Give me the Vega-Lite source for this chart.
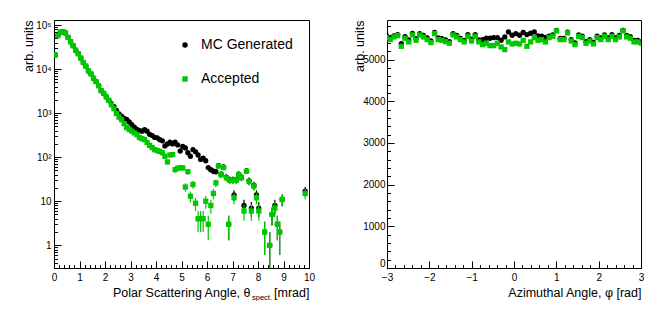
{
  "$schema": "https://vega.github.io/schema/vega-lite/v6.json",
  "autosize": {"type": "pad"},
  "padding": {"left": 21, "top": 19, "right": 0, "bottom": 0},
  "background": "white",
  "spacing": 78,
  "bounds": "flush",
  "config": {
    "font": "Liberation Sans",
    "view": {"stroke": "black", "strokeWidth": 1},
    "axis": {"domain": false, "grid": false, "tickColor": "black", "tickWidth": 1, "labelColor": "black", "titleColor": "black", "labelFont": "Liberation Sans", "titleFont": "Liberation Sans", "labelFontSize": 10, "titleFontSize": 12.5, "titleFontWeight": "normal", "labelFlush": false, "labelOverlap": false}
  },
  "datasets": {
    "accPolar": [
      {"x":0.05,"n":21000,"e":145},{"x":0.15,"n":57500,"e":240},{"x":0.25,"n":69000,"e":263},{"x":0.35,"n":70800,"e":266},{"x":0.45,"n":66000,"e":257},{"x":0.55,"n":52500,"e":229},{"x":0.65,"n":41700,"e":204},{"x":0.75,"n":33900,"e":184},{"x":0.85,"n":26900,"e":164},{"x":0.95,"n":22400,"e":150},
      {"x":1.05,"n":17800,"e":133},{"x":1.15,"n":14100,"e":119},{"x":1.25,"n":11700,"e":108},{"x":1.35,"n":9100,"e":95},{"x":1.45,"n":7800,"e":88},{"x":1.55,"n":6200,"e":79},{"x":1.65,"n":5200,"e":72},{"x":1.75,"n":4200,"e":65},{"x":1.85,"n":3240,"e":57},{"x":1.95,"n":2820,"e":53},
      {"x":2.05,"n":2340,"e":48},{"x":2.15,"n":1950,"e":44},{"x":2.25,"n":1550,"e":39},{"x":2.35,"n":1260,"e":35},{"x":2.45,"n":980,"e":31},{"x":2.55,"n":810,"e":28},{"x":2.65,"n":710,"e":27},{"x":2.75,"n":575,"e":24},{"x":2.85,"n":470,"e":22},{"x":2.95,"n":425,"e":21},
      {"x":3.05,"n":390,"e":20},{"x":3.15,"n":355,"e":19},{"x":3.25,"n":325,"e":18},{"x":3.35,"n":280,"e":17},{"x":3.45,"n":263,"e":16},{"x":3.55,"n":250,"e":16},{"x":3.65,"n":215,"e":15},{"x":3.75,"n":185,"e":14},{"x":3.85,"n":165,"e":13},{"x":3.95,"n":148,"e":12},
      {"x":4.05,"n":141,"e":12},{"x":4.15,"n":135,"e":12},{"x":4.25,"n":126,"e":11},{"x":4.35,"n":105,"e":10.2},{"x":4.45,"n":78,"e":8.8},{"x":4.55,"n":112,"e":10.6},{"x":4.65,"n":115,"e":10.7},{"x":4.75,"n":52,"e":7.2},{"x":4.85,"n":56,"e":7.5},{"x":4.95,"n":58,"e":7.6},
      {"x":5.05,"n":57,"e":7.5},{"x":5.15,"n":21,"e":4.6},{"x":5.25,"n":47,"e":6.9},{"x":5.35,"n":13,"e":3.6},{"x":5.45,"n":24,"e":4.9},{"x":5.55,"n":9,"e":3},{"x":5.65,"n":4,"e":2},{"x":5.75,"n":4,"e":2},{"x":5.85,"n":4,"e":2},{"x":5.95,"n":10,"e":3.2},
      {"x":6.05,"n":3,"e":1.7},{"x":6.15,"n":8,"e":2.8},{"x":6.25,"n":15,"e":3.9},{"x":6.35,"n":26,"e":5.1},{"x":6.45,"n":63,"e":7.9},{"x":6.55,"n":40,"e":6.3},{"x":6.65,"n":58,"e":7.6},{"x":6.76,"n":34,"e":5.8},{"x":6.85,"n":3,"e":1.7},{"x":6.89,"n":30,"e":5.5},
      {"x":7.02,"n":30,"e":5.5},{"x":7.06,"n":12,"e":3.5},{"x":7.15,"n":30,"e":5.5},{"x":7.24,"n":40,"e":6.3},{"x":7.35,"n":34,"e":5.8},{"x":7.45,"n":6,"e":2.4},{"x":7.55,"n":48,"e":6.9},{"x":7.65,"n":28,"e":5.3},{"x":7.74,"n":6,"e":2.4},{"x":7.84,"n":22,"e":4.7},
      {"x":7.94,"n":12,"e":3.5},{"x":8.03,"n":6,"e":2.4},{"x":8.26,"n":2,"e":1.4},{"x":8.46,"n":1,"e":0.99},{"x":8.55,"n":5,"e":2.2},{"x":8.66,"n":7,"e":2.6},{"x":8.76,"n":3,"e":1.7},{"x":8.85,"n":2,"e":1.4},{"x":8.95,"n":11,"e":3.3},{"x":9.85,"n":15,"e":3.9}
    ],
    "mcPolar": [
      {"x":0.05,"n":21000,"e":145},{"x":0.15,"n":57500,"e":240},{"x":0.25,"n":69000,"e":263},{"x":0.35,"n":70800,"e":266},{"x":0.45,"n":66000,"e":257},{"x":0.55,"n":52500,"e":229},{"x":0.65,"n":41700,"e":204},{"x":0.75,"n":33900,"e":184},{"x":0.85,"n":26900,"e":164},{"x":0.95,"n":22400,"e":150},
      {"x":1.05,"n":17800,"e":133},{"x":1.15,"n":14100,"e":119},{"x":1.25,"n":11700,"e":108},{"x":1.35,"n":9100,"e":95},{"x":1.45,"n":7800,"e":88},{"x":1.55,"n":6200,"e":79},{"x":1.65,"n":5200,"e":72},{"x":1.75,"n":4200,"e":65},{"x":1.85,"n":3240,"e":57},{"x":1.95,"n":2820,"e":53},
      {"x":2.05,"n":2340,"e":48},{"x":2.15,"n":1950,"e":44},{"x":2.25,"n":1650,"e":41},{"x":2.35,"n":1410,"e":38},{"x":2.45,"n":1150,"e":34},{"x":2.55,"n":955,"e":31},{"x":2.65,"n":850,"e":29},{"x":2.75,"n":760,"e":28},{"x":2.85,"n":725,"e":27},{"x":2.95,"n":630,"e":25},
      {"x":3.05,"n":550,"e":23},{"x":3.15,"n":480,"e":22},{"x":3.25,"n":425,"e":21},{"x":3.35,"n":400,"e":20},{"x":3.45,"n":390,"e":20},{"x":3.55,"n":420,"e":20},{"x":3.65,"n":390,"e":20},{"x":3.75,"n":330,"e":18},{"x":3.85,"n":310,"e":18},{"x":3.95,"n":280,"e":17},
      {"x":4.05,"n":275,"e":17},{"x":4.15,"n":250,"e":16},{"x":4.25,"n":235,"e":15},{"x":4.35,"n":180,"e":13},{"x":4.45,"n":200,"e":14},{"x":4.55,"n":220,"e":15},{"x":4.65,"n":200,"e":14},{"x":4.75,"n":220,"e":15},{"x":4.85,"n":190,"e":14},{"x":4.95,"n":138,"e":12},
      {"x":5.05,"n":175,"e":13},{"x":5.15,"n":162,"e":13},{"x":5.25,"n":126,"e":11},{"x":5.35,"n":105,"e":10},{"x":5.45,"n":148,"e":12},{"x":5.55,"n":132,"e":11},{"x":5.65,"n":112,"e":11},{"x":5.75,"n":89,"e":9.4},{"x":5.85,"n":95,"e":9.7},{"x":5.95,"n":83,"e":9.1},
      {"x":6.05,"n":58,"e":7.6},{"x":6.15,"n":52,"e":7.2},{"x":6.25,"n":48,"e":6.9},{"x":6.35,"n":47,"e":6.9},{"x":6.45,"n":64,"e":8},{"x":6.55,"n":41,"e":6.4},{"x":6.65,"n":60,"e":7.7},{"x":6.76,"n":35,"e":5.9},{"x":6.85,"n":3,"e":1.7},{"x":6.89,"n":31,"e":5.6},
      {"x":7.02,"n":31,"e":5.6},{"x":7.06,"n":14,"e":3.7},{"x":7.15,"n":31,"e":5.6},{"x":7.24,"n":41,"e":6.4},{"x":7.35,"n":35,"e":5.9},{"x":7.45,"n":8,"e":2.8},{"x":7.55,"n":49,"e":7},{"x":7.65,"n":29,"e":5.4},{"x":7.74,"n":7,"e":2.6},{"x":7.84,"n":23,"e":4.8},
      {"x":7.94,"n":14,"e":3.7},{"x":8.03,"n":7,"e":2.6},{"x":8.26,"n":2,"e":1.4},{"x":8.46,"n":1,"e":0.99},{"x":8.55,"n":5,"e":2.2},{"x":8.66,"n":8,"e":2.8},{"x":8.76,"n":3,"e":1.7},{"x":8.85,"n":2,"e":1.4},{"x":8.95,"n":11,"e":3.3},{"x":9.85,"n":17,"e":4.1}
    ],
    "accPhi": [
      {"x":-3.0107,"n":5528},{"x":-2.9234,"n":5480},{"x":-2.8362,"n":5544},{"x":-2.7489,"n":5576},{"x":-2.6616,"n":5320},{"x":-2.5744,"n":5512},{"x":-2.4871,"n":5424},{"x":-2.3998,"n":5592},{"x":-2.3126,"n":5464},{"x":-2.2253,"n":5592},
      {"x":-2.138,"n":5544},{"x":-2.0508,"n":5480},{"x":-1.9635,"n":5408},{"x":-1.8762,"n":5624},{"x":-1.789,"n":5480},{"x":-1.7017,"n":5464},{"x":-1.6144,"n":5432},{"x":-1.5272,"n":5392},{"x":-1.4399,"n":5592},{"x":-1.3526,"n":5544},
      {"x":-1.2654,"n":5480},{"x":-1.1781,"n":5424},{"x":-1.0908,"n":5560},{"x":-1.0036,"n":5448},{"x":-0.9163,"n":5560},{"x":-0.829,"n":5424},{"x":-0.7418,"n":5360},{"x":-0.6545,"n":5392},{"x":-0.5672,"n":5336},{"x":-0.48,"n":5336},
      {"x":-0.3927,"n":5392},{"x":-0.3054,"n":5304},{"x":-0.2182,"n":5240},{"x":-0.1309,"n":5424},{"x":-0.0436,"n":5376},{"x":0.0436,"n":5392},{"x":0.1309,"n":5376},{"x":0.2182,"n":5464},{"x":0.3054,"n":5320},{"x":0.3927,"n":5424},
      {"x":0.48,"n":5528},{"x":0.5672,"n":5464},{"x":0.6545,"n":5480},{"x":0.7418,"n":5424},{"x":0.829,"n":5528},{"x":0.9163,"n":5560},{"x":1.0036,"n":5688},{"x":1.0908,"n":5480},{"x":1.1781,"n":5480},{"x":1.2654,"n":5640},
      {"x":1.3526,"n":5448},{"x":1.4399,"n":5360},{"x":1.5272,"n":5560},{"x":1.6144,"n":5528},{"x":1.7017,"n":5392},{"x":1.789,"n":5448},{"x":1.8762,"n":5376},{"x":1.9635,"n":5528},{"x":2.0508,"n":5480},{"x":2.138,"n":5560},
      {"x":2.2253,"n":5480},{"x":2.3126,"n":5560},{"x":2.3998,"n":5480},{"x":2.4871,"n":5544},{"x":2.5744,"n":5688},{"x":2.6616,"n":5544},{"x":2.7489,"n":5512},{"x":2.8362,"n":5424},{"x":2.9234,"n":5424},{"x":3.0107,"n":5392}
    ],
    "mcPhi": [
      {"x":-3.0107,"n":5580},{"x":-2.9234,"n":5520},{"x":-2.8362,"n":5570},{"x":-2.7489,"n":5600},{"x":-2.6616,"n":5380},{"x":-2.5744,"n":5550},{"x":-2.4871,"n":5470},{"x":-2.3998,"n":5630},{"x":-2.3126,"n":5500},{"x":-2.2253,"n":5620},
      {"x":-2.138,"n":5580},{"x":-2.0508,"n":5520},{"x":-1.9635,"n":5450},{"x":-1.8762,"n":5650},{"x":-1.789,"n":5520},{"x":-1.7017,"n":5500},{"x":-1.6144,"n":5470},{"x":-1.5272,"n":5430},{"x":-1.4399,"n":5620},{"x":-1.3526,"n":5580},
      {"x":-1.2654,"n":5510},{"x":-1.1781,"n":5460},{"x":-1.0908,"n":5600},{"x":-1.0036,"n":5490},{"x":-0.9163,"n":5600},{"x":-0.829,"n":5470},{"x":-0.7418,"n":5480},{"x":-0.6545,"n":5512},{"x":-0.5672,"n":5512},{"x":-0.48,"n":5528},
      {"x":-0.3927,"n":5528},{"x":-0.3054,"n":5464},{"x":-0.2182,"n":5544},{"x":-0.1309,"n":5664},{"x":-0.0436,"n":5584},{"x":0.0436,"n":5624},{"x":0.1309,"n":5584},{"x":0.2182,"n":5650},{"x":0.3054,"n":5600},{"x":0.3927,"n":5632},
      {"x":0.48,"n":5664},{"x":0.5672,"n":5570},{"x":0.6545,"n":5560},{"x":0.7418,"n":5530},{"x":0.829,"n":5560},{"x":0.9163,"n":5590},{"x":1.0036,"n":5700},{"x":1.0908,"n":5510},{"x":1.1781,"n":5510},{"x":1.2654,"n":5660},
      {"x":1.3526,"n":5480},{"x":1.4399,"n":5400},{"x":1.5272,"n":5590},{"x":1.6144,"n":5560},{"x":1.7017,"n":5430},{"x":1.789,"n":5480},{"x":1.8762,"n":5410},{"x":1.9635,"n":5560},{"x":2.0508,"n":5520},{"x":2.138,"n":5590},
      {"x":2.2253,"n":5520},{"x":2.3126,"n":5600},{"x":2.3998,"n":5520},{"x":2.4871,"n":5580},{"x":2.5744,"n":5700},{"x":2.6616,"n":5580},{"x":2.7489,"n":5550},{"x":2.8362,"n":5460},{"x":2.9234,"n":5460},{"x":3.0107,"n":5430}
    ]
  },
  "hconcat": [
    {
      "width": 255,
      "height": 248,
      "resolve": {"axis": {"x": "independent", "y": "independent"}},
      "layer": [
        {
          "data": {"name": "mcPolar"},
          "mark": {"type": "errorbar", "color": "black", "thickness": 1.2, "clip": true},
          "encoding": {
            "x": {"field": "x", "type": "quantitative", "scale": {"domain": [0, 10], "nice": false, "zero": false},
                  "axis": {"orient": "bottom", "values": [0,0.2,0.4,0.6,0.8,1,1.2,1.4,1.6,1.8,2,2.2,2.4,2.6,2.8,3,3.2,3.4,3.6,3.8,4,4.2,4.4,4.6,4.8,5,5.2,5.4,5.6,5.8,6,6.2,6.4,6.6,6.8,7,7.2,7.4,7.6,7.8,8,8.2,8.4,8.6,8.8,9,9.2,9.4,9.6,9.8,10], "tickSize": -3.5, "labels": false, "title": null}},
            "y": {"field": "n", "type": "quantitative", "scale": {"type": "log", "domain": [0.305, 130000], "nice": false},
                  "axis": {"orient": "left", "values": [0.4,0.5,0.6,0.7,0.8,0.9,2,3,4,5,6,7,8,9,20,30,40,50,60,70,80,90,200,300,400,500,600,700,800,900,2000,3000,4000,5000,6000,7000,8000,9000,20000,30000,40000,50000,60000,70000,80000,90000], "tickSize": -3.5, "labels": false, "title": null}},
            "yError": {"field": "e"}
          }
        },
        {
          "data": {"name": "mcPolar"},
          "mark": {"type": "point", "filled": true, "size": 28, "opacity": 1, "clip": true},
          "encoding": {
            "x": {"field": "x", "type": "quantitative", "scale": {"domain": [0, 10], "nice": false, "zero": false},
                  "axis": {"orient": "bottom", "values": [0,1,2,3,4,5,6,7,8,9,10], "tickSize": -7, "labelPadding": 11, "title": "Polar Scattering Angle, θ", "titleX": 196, "titleY": 28, "titleAlign": "right", "titleAnchor": null, "titleBaseline": "alphabetic"}},
            "y": {"field": "n", "type": "quantitative", "scale": {"type": "log", "domain": [0.305, 130000], "nice": false},
                  "axis": {"orient": "left", "values": [1,10,100,1000,10000,100000], "tickSize": -7, "labelPadding": 10,
                           "labelExpr": "datum.value == 1 ? '1' : datum.value == 10 ? '10' : datum.value == 100 ? '10²' : datum.value == 1000 ? '10³' : datum.value == 10000 ? '10⁴' : '10⁵'",
                           "title": "arb. units", "titleX": -22, "titleY": 0, "titleAlign": "right", "titleAngle": -90, "titleAnchor": null, "titleBaseline": "alphabetic"}},
            "color": {"datum": "MC Generated", "scale": {"domain": ["MC Generated", "Accepted"], "range": ["#000000", "#00c800"]},
                      "legend": {"orient": "none", "legendX": 124, "legendY": 18, "title": null, "labelFontSize": 14, "labelFont": "Liberation Sans", "labelColor": "black", "symbolSize": 30, "rowPadding": 20, "labelOffset": 9, "padding": 0, "symbolStrokeWidth": 0, "symbolOpacity": 1}},
            "shape": {"datum": "MC Generated", "scale": {"domain": ["MC Generated", "Accepted"], "range": ["circle", "square"]},
                      "legend": {"orient": "none", "legendX": 124, "legendY": 18, "title": null, "labelFontSize": 14, "labelFont": "Liberation Sans", "labelColor": "black", "symbolSize": 30, "rowPadding": 20, "labelOffset": 9, "padding": 0, "symbolStrokeWidth": 0, "symbolOpacity": 1}}
          }
        },
        {
          "data": {"name": "accPolar"},
          "mark": {"type": "errorbar", "color": "#00c800", "thickness": 1.2, "clip": true},
          "encoding": {
            "x": {"field": "x", "type": "quantitative", "scale": {"domain": [0, 10], "nice": false, "zero": false},
                  "axis": {"orient": "bottom", "values": [], "ticks": false, "labels": false, "title": "[mrad]", "titleX": 255, "titleY": 28, "titleAlign": "right", "titleAnchor": null, "titleBaseline": "alphabetic"}},
            "y": {"field": "n", "type": "quantitative", "scale": {"type": "log", "domain": [0.305, 130000], "nice": false}, "axis": null},
            "yError": {"field": "e"}
          }
        },
        {
          "data": {"name": "accPolar"},
          "mark": {"type": "point", "filled": true, "size": 28, "opacity": 1, "clip": true},
          "encoding": {
            "x": {"field": "x", "type": "quantitative", "scale": {"domain": [0, 10], "nice": false, "zero": false},
                  "axis": {"orient": "bottom", "values": [], "ticks": false, "labels": false, "title": "spect.", "titleFontSize": 7.5, "titleX": 197.5, "titleY": 31, "titleAlign": "left", "titleAnchor": null, "titleBaseline": "alphabetic"}},
            "y": {"field": "n", "type": "quantitative", "scale": {"type": "log", "domain": [0.305, 130000], "nice": false}, "axis": null},
            "color": {"datum": "Accepted"},
            "shape": {"datum": "Accepted"}
          }
        }
      ]
    },
    {
      "width": 254,
      "height": 248,
      "resolve": {"axis": {"x": "independent", "y": "independent"}},
      "layer": [
        {
          "data": {"name": "mcPhi"},
          "mark": {"type": "point", "shape": "circle", "filled": true, "size": 28, "opacity": 1, "color": "#000000", "clip": true},
          "encoding": {
            "x": {"field": "x", "type": "quantitative", "scale": {"domain": [-3, 3], "nice": false, "zero": false},
                  "axis": {"orient": "bottom", "values": [-3,-2,-1,0,1,2,3], "tickSize": -7, "labelPadding": 11, "title": "Azimuthal Angle, φ [rad]", "titleX": 254, "titleY": 28, "titleAlign": "right", "titleAnchor": null, "titleBaseline": "alphabetic"}},
            "y": {"field": "n", "type": "quantitative", "scale": {"domain": [0, 5950], "nice": false},
                  "axis": {"orient": "left", "values": [0,1000,2000,3000,4000,5000], "format": "d", "labelBaseline": {"condition": {"test": "datum.value == 0", "value": "bottom"}, "value": "middle"}, "tickSize": -7, "labelPadding": 9, "title": "arb. units", "titleX": -23.5, "titleY": 0, "titleAlign": "right", "titleAngle": -90, "titleAnchor": null, "titleBaseline": "alphabetic"}}
          }
        },
        {
          "data": {"name": "accPhi"},
          "mark": {"type": "point", "shape": "square", "filled": true, "size": 28, "opacity": 1, "color": "#00c800", "clip": true},
          "encoding": {
            "x": {"field": "x", "type": "quantitative", "scale": {"domain": [-3, 3], "nice": false, "zero": false},
                  "axis": {"orient": "bottom", "values": [-3,-2.8,-2.6,-2.4,-2.2,-2,-1.8,-1.6,-1.4,-1.2,-1,-0.8,-0.6,-0.4,-0.2,0,0.2,0.4,0.6,0.8,1,1.2,1.4,1.6,1.8,2,2.2,2.4,2.6,2.8,3], "tickSize": -3.5, "labels": false, "title": null}},
            "y": {"field": "n", "type": "quantitative", "scale": {"domain": [0, 5950], "nice": false},
                  "axis": {"orient": "left", "values": [0,200,400,600,800,1000,1200,1400,1600,1800,2000,2200,2400,2600,2800,3000,3200,3400,3600,3800,4000,4200,4400,4600,4800,5000,5200,5400,5600,5800], "tickSize": -3.5, "labels": false, "title": null}}
          }
        }
      ]
    }
  ]
}
